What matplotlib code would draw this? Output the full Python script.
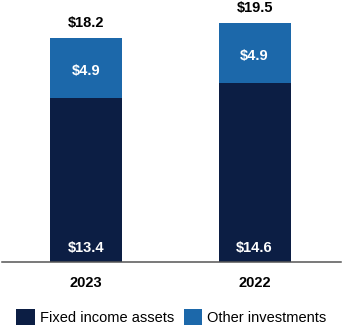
import numpy as np
import matplotlib.pyplot as plt

plt.rcParams['font.family'] = ['Liberation Sans', 'DejaVu Sans']

# Investment portfolio, $ billions
years = ['2023', '2022']
fixed_income = [13.4, 14.6]
other_inv = [4.9, 4.9]
totals = [18.2, 19.5]

navy = '#0c1e44'
blue = '#1c68aa'

fig = plt.figure(figsize=(3.43, 3.32), dpi=100)
ax = fig.add_axes([2 / 343, 70 / 332, 339 / 343, 262 / 332])

x = np.arange(len(years))
w = 0.427
ax.bar(x, fixed_income, w, color=navy, label='Fixed income assets')
ax.bar(x, other_inv, w, bottom=fixed_income, color=blue, label='Other investments')

for i in range(len(years)):
    # totals above the stack
    ax.annotate(f'${totals[i]:.1f}', (x[i], fixed_income[i] + other_inv[i]),
                xytext=(0, 11), textcoords='offset points', ha='center', va='center',
                fontsize=10.5, fontweight='bold', color='black')
    # segment values
    ax.text(x[i], fixed_income[i] + other_inv[i] / 2 - 0.2, f'${other_inv[i]:.1f}',
            ha='center', va='center', fontsize=10.5, fontweight='bold', color='white')
    ax.annotate(f'${fixed_income[i]:.1f}', (x[i], 0), xytext=(0, 10),
                textcoords='offset points', ha='center', va='center',
                fontsize=10.5, fontweight='bold', color='white')

ax.set_xlim(-0.5, 1.513)
ax.set_ylim(0, 21.42)
ax.set_xticks(x)
ax.set_xticklabels(years, fontsize=10.5, fontweight='bold')
ax.tick_params(axis='x', length=0, pad=10)
ax.set_yticks([])
for s in ['top', 'right', 'left']:
    ax.spines[s].set_visible(False)
ax.spines['bottom'].set_color('#555555')
ax.spines['bottom'].set_linewidth(1.1)

fig.legend(loc='center', bbox_to_anchor=(0.5, 15 / 332), ncol=2, frameon=False,
           fontsize=10.5, handlelength=1.25, handleheight=1.3, handletextpad=0.35,
           columnspacing=0.7, borderaxespad=0)

fig.savefig('out.png', dpi=100)
